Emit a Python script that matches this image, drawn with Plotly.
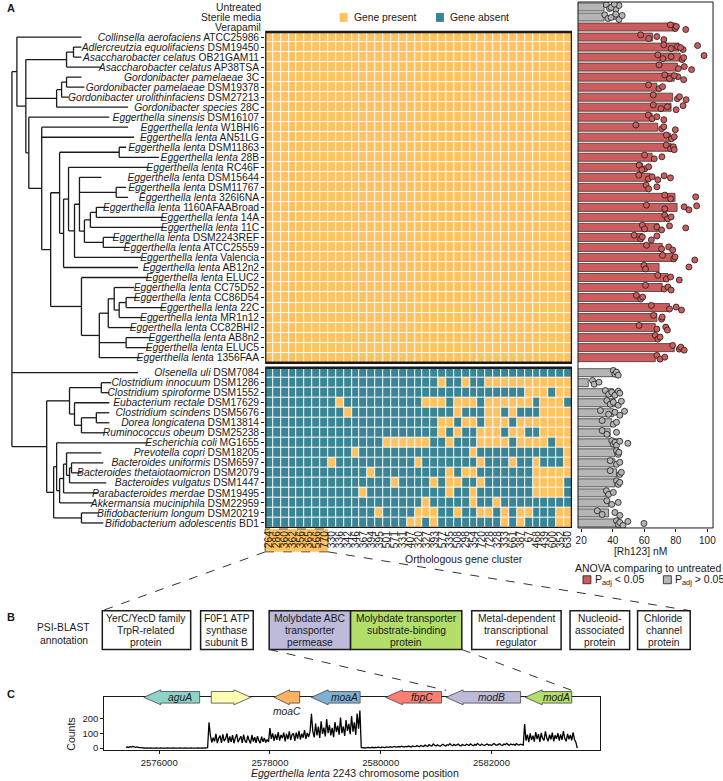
import plotly.graph_objects as go

W, H = 723, 781
FONT = "Liberation Sans, Arial, sans-serif"
INK = "#1a1a1a"
YELLOW = "#FEC260"
TEAL = "#3A8595"
RED = "#CD5C5C"
GREY = "#B5B5B5"

# ---------------------------------------------------------------- data
CONTROL_LABELS = ["Untreated", "Sterile media", "Verapamil"]
CONTROL_VALUES = [34.5, 34.5, 80.0]
CONTROL_POINTS = [[36, 38, 40, 42, 44, 39, 41], [35, 37, 41, 44, 46, 39, 42], [76.6, 79.7, 80.4, 86.3]]
CONTROL_SIG = [False, False, True]

TOP_SPECIES = [
    ("Collinsella aerofaciens", "ATCC25986"), ("Adlercreutzia equolifaciens", "DSM19450"),
    ("Asaccharobacter celatus", "OB21GAM11"), ("Asaccharobacter celatus", "AP38TSA"),
    ("Gordonibacter pamelaeae", "3C"), ("Gordonibacter pamelaeae", "DSM19378"),
    ("Gordonibacter urolithinfaciens", "DSM27213"), ("Gordonibacter species", "28C"),
    ("Eggerthella sinensis", "DSM16107"), ("Eggerthella lenta", "W1BHI6"),
    ("Eggerthella lenta", "AN51LG"), ("Eggerthella lenta", "DSM11863"),
    ("Eggerthella lenta", "28B"), ("Eggerthella lenta", "RC46F"),
    ("Eggerthella lenta", "DSM15644"), ("Eggerthella lenta", "DSM11767"),
    ("Eggerthella lenta", "326I6NA"), ("Eggerthella lenta", "1160AFAABroad"),
    ("Eggerthella lenta", "14A"), ("Eggerthella lenta", "11C"),
    ("Eggerthella lenta", "DSM2243REF"), ("Eggerthella lenta", "ATCC25559"),
    ("Eggerthella lenta", "Valencia"), ("Eggerthella lenta", "AB12n2"),
    ("Eggerthella lenta", "ELUC2"), ("Eggerthella lenta", "CC75D52"),
    ("Eggerthella lenta", "CC86D54"), ("Eggerthella lenta", "22C"),
    ("Eggerthella lenta", "MR1n12"), ("Eggerthella lenta", "CC82BHI2"),
    ("Eggerthella lenta", "AB8n2"), ("Eggerthella lenta", "ELUC5"),
    ("Eggerthella lenta", "1356FAA"),
]
TOP_VALUES = [65.3, 82, 82.8, 81, 79, 68, 78, 77, 65, 68.5, 76.7, 77, 65, 59, 63.8, 61.8, 79.5,
              80.8, 73, 69, 59.1, 71.4, 78.7, 69.4, 75, 71.4, 56.7, 76, 68, 67, 67.3, 79, 67]
TOP_POINTS = [
    [57.7, 62.8, 68.0, 72.4], [72.4, 77.0, 81.0, 84.6, 93.8, 83.0], [68.6, 71.8, 77.0, 84.0, 97.9, 85.0],
    [69.4, 81.6, 85.4, 90.0], [73.0, 76.0, 81.3, 85.0, 79.0], [62.7, 69.3, 71.6],
    [65.7, 81.0, 82.3, 86.5], [65.7, 70.6, 74.7, 80.2, 84.6], [62.6, 65.0, 68.0, 72.4],
    [54.7, 71.0, 72.4, 79.7], [74.0, 77.3, 79.0], [73.9, 76.7, 78.5, 79.0],
    [60.2, 66.3, 71.2], [56.7, 60.4, 62.8, 58.5], [56.5, 62.6, 65.0, 68.6, 72.6, 76.6],
    [61.2, 62.8, 68.0], [73.0, 76.7, 92.6], [61.4, 73.0, 85.3, 88.3, 93.2],
    [73.0, 74.8, 77.0], [58.8, 60.2, 68.0, 71.0, 76.0, 86.3], [53.6, 57.7, 58.8, 64.5, 68.0],
    [61.4, 71.0, 75.5, 78.0], [71.6, 78.7, 79.5, 92.0], [59.8, 60.8, 88.3],
    [68.6, 74.0, 76.7, 82.2], [60.8, 72.6, 75.0, 77.0], [55.0, 57.7, 59.0],
    [64.5, 76.0, 80.2, 83.6], [65.9, 71.0, 71.4], [56.7, 68.0, 73.6, 74.7],
    [67.0, 68.6, 70.0], [78.0, 82.2, 83.2, 85.3], [68.0, 70.0, 73.0],
]

BOTTOM_SPECIES = [
    ("Olsenella uli", "DSM7084"), ("Clostridium innocuum", "DSM1286"),
    ("Clostridium spiroforme", "DSM1552"), ("Eubacterium rectale", "DSM17629"),
    ("Clostridium scindens", "DSM5676"), ("Dorea longicatena", "DSM13814"),
    ("Ruminococcus obeum", "DSM25238"), ("Escherichia coli", "MG1655"),
    ("Prevotella copri", "DSM18205"), ("Bacteroides uniformis", "DSM6597"),
    ("Bacteroides thetaiotaomicron", "DSM2079"), ("Bacteroides vulgatus", "DSM1447"),
    ("Parabacteroides merdae", "DSM19495"), ("Akkermansia muciniphila", "DSM22959"),
    ("Bifidobacterium longum", "DSM20219"), ("Bifidobacterium adolescentis", "BD1"),
]
BOTTOM_VALUES = [40.4, 24.5, 40.4, 41.4, 40.4, 39.4, 38.4, 43.5, 41.4, 41.4, 42.4, 41.4, 35.3, 37.4, 37.4, 43.5]
BOTTOM_POINTS = [
    [40.4, 41.4, 42.4, 43.5], [27.2, 28.2, 31.3], [35.3, 37.4, 39.4, 41.4, 43.5, 44.5],
    [36.3, 38.4, 40.4, 43.5, 45.5], [32.2, 37.4, 41.4, 44.5, 47.5], [33.3, 40.4, 42.4],
    [33.3, 36.3, 42.4], [39.4, 40.4, 41.4, 42.4, 44.5, 49.6], [42.4, 43.5, 43.9],
    [38.4, 42.4, 44.5], [38.4, 44.5, 45.5], [42.4, 43.5, 44.5], [36.0, 37.4, 40.4],
    [36.3, 39.4, 43.5], [30.2, 33.3, 41.4, 44.5], [42.4, 43.5, 44.5, 46.5, 49.6, 59.8],
]

CLUSTERS = ["264", "286", "360", "362", "356", "365", "566", "770",
            "330", "336", "342", "346", "367", "394", "395", "501", "571", "331", "407",
            "320", "327", "393", "577", "335", "508", "298", "354", "720", "728", "328",
            "333", "661", "387", "67", "468", "439", "600", "352", "630"]
N_CORE = 8  # clusters present in every reducer and absent in every non-reducer
# clusters present (index into CLUSTERS) for each non-reducing strain; reducers have all
BOTTOM_PRESENT = [
    [],
    [22, 25, 28, 29, 30, 31, 32, 33, 34, 35, 36, 37, 38],
    [33, 34, 35, 37, 38],
    [9, 20, 21, 22, 24, 25, 26, 28, 29, 30, 31, 32, 33, 35, 36, 37],
    [10, 24, 28, 29, 31, 35, 36, 37, 38],
    [22, 23, 25, 26, 28, 29, 30, 32, 33, 34, 35, 36, 37, 38],
    [22, 24, 27, 28, 29, 31, 32, 35, 36, 37, 38],
    [15, 16, 17, 18, 19, 20, 23, 27, 28, 29, 30, 32, 33, 34, 35, 37, 38],
    [11, 26, 38],
    [8, 19, 27, 31, 34, 38],
    [13, 23, 25, 26, 34, 35, 36, 37, 38],
    [16, 21, 23, 24, 27, 34, 35, 36, 37],
    [12, 23, 26, 34, 35, 36, 37],
    [20, 26, 29],
    [14, 19, 20, 21, 24, 27, 28, 30, 32, 33, 37, 38],
    [18, 19, 21, 30, 32, 37, 38],
]

# tree: internal node = [depth, [children]], leaf = (strain, depth)
TREE = [0.00, [
    [0.05, [
        ("ATCC25986", 0.70),
        [0.14, [
            [0.55, [[0.62, [("DSM19450", 0.70), ("OB21GAM11", 0.70)]], ("AP38TSA", 0.90)]],
            [0.45, [[0.50, [[0.55, [("3C", 0.70), ("DSM19378", 0.73)]], ("DSM27213", 0.57)]], ("28C", 1.17)]],
            [0.17, [
                ("DSM16107", 0.98),
                [0.30, [
                    ("W1BHI6", 1.17),
                    ("AN51LG", 1.23),
                    [0.39, [
                        [0.48, [
                            [1.08, [("DSM11863", 1.15), ("28B", 1.48)]],
                            [0.52, [
                                [0.57, [
                                    ("RC46F", 1.37),
                                    [0.63, [
                                        [0.68, [
                                            ("DSM15644", 0.90),
                                            [1.05, [("DSM11767", 1.15), ("326I6NA", 1.17)]],
                                            [0.73, [
                                                [0.79, [[0.85, [("1160AFAABroad", 0.97), ("14A", 1.53)]], ("11C", 1.53)]],
                                                [0.92, [("DSM2243REF", 1.03), ("ATCC25559", 1.15)]],
                                            ]],
                                        ]],
                                        ("Valencia", 1.30),
                                    ]],
                                ]],
                                ("AB12n2", 1.27),
                            ]],
                        ]],
                        [0.70, [
                            ("ELUC2", 1.37),
                            [0.88, [
                                [0.97, [
                                    [1.03, [("CC75D52", 1.23),
                                            [1.08, [[1.15, [("CC86D54", 1.27), ("22C", 1.53)]], ("MR1n12", 1.30)]]]],
                                    ("CC82BHI2", 1.23),
                                ]],
                                [1.15, [("AB8n2", 1.40), ("ELUC5", 1.40)]],
                                ("1356FAA", 1.30),
                            ]],
                        ]],
                    ]],
                ]],
            ]],
        ]],
    ]],
    ("DSM7084", 1.27),
    [0.35, [
        [0.58, [
            [0.90, [("DSM1286", 1.00), ("DSM1552", 0.98)]],
            [0.63, [
                ("DSM17629", 0.98),
                [0.70, [[0.85, [("DSM5676", 0.98), ("DSM13814", 0.98)]], ("DSM25238", 0.93)]],
            ]],
        ]],
        [0.42, [
            [0.45, [
                ("MG1655", 1.37),
                [0.48, [
                    [0.52, [
                        [0.55, [
                            ("DSM18205", 0.90),
                            [0.58, [[0.60, [("DSM6597", 0.92), ("DSM2079", 0.70)]], ("DSM1447", 0.95)]],
                        ]],
                        ("DSM19495", 0.87),
                    ]],
                    ("DSM22959", 0.82),
                ]],
            ]],
            [0.70, [("DSM20219", 0.87), ("BD1", 0.92)]],
        ]],
    ]],
]]

PSI_TEXT = [
    ["YerC/YecD family", "TrpR-related", "protein"],
    ["F0F1 ATP", "synthase", "subunit B"],
    ["Molybdate ABC", "transporter", "permease"],
    ["Molybdate transporter", "substrate-binding", "protein"],
    ["Metal-dependent", "transcriptional", "regulator"],
    ["Nucleoid-", "associated", "protein"],
    ["Chloride", "channel", "protein"],
]

GENE_NAMES = ["aguA", "", "moaC", "moaA", "fbpC", "modB", "modA"]
GENE_START = [2575723, 2576941, 2578075, 2578747, 2580091, 2581183, 2582611]
GENE_END = [2576731, 2577655, 2578537, 2579629, 2581099, 2582527, 2583451]
GENE_STRAND = [-1, 1, -1, -1, -1, -1, -1]
GENE_COLORS = ["#8DD3C7", "#FFFFB3", "#FDB462", "#80B1D3", "#FB8072", "#BEBADA", "#B3DE69"]

COV_START = 2575400
COV_STEP = 25
COVERAGE = [
    6, 9, 5, 10, 7, 11, 8, 6, 9, 5, 4, 3, 2,
    1, 0, 1, 0, 0, 1, 0, 0, 0, 1, 0, 0, 1, 0, 0, 0, 0, 1, 0, 0, 0, 1, 0, 0, 0, 0, 1, 0, 0, 0,
    1, 0, 0, 0, 1, 0, 0, 0, 0, 1, 0, 0, 1, 0, 1, 2, 3,
    172,
    85, 38, 70, 45, 96, 34, 66, 84, 36, 92, 47, 63, 99, 36, 78, 42, 87, 33, 68, 94,
    40, 61, 80, 35, 90, 48, 37, 83, 52, 32, 88, 45, 73, 35, 80, 50, 34, 77, 43, 68, 38, 58, 42,
    135,
    62, 99, 48, 92, 56, 108, 51, 88, 67, 104, 45, 96, 60, 112, 54, 90, 99, 49, 104, 64,
    115, 58, 97, 70, 120, 62, 102, 75, 110,
    230,
    110, 72, 165, 85, 145, 68, 180, 95, 138, 78, 195, 100, 155, 86, 135, 74, 175, 108, 150, 90,
    205, 100, 145, 82, 188, 115, 162, 93, 215, 110, 172, 88, 232, 130, 252,
    5,
    2, 4, 1, 3, 5, 2, 4, 6, 3, 5, 4, 7, 5, 3, 8, 6, 4, 9, 7, 5,
    10, 6, 8, 12, 7, 9, 11, 8, 13, 10, 7, 12, 9, 14, 11, 8, 15, 12, 10, 16,
    13, 9, 18, 14, 11, 20, 15, 12, 24, 17, 14, 28, 19, 15, 22, 17, 13, 20, 26, 18,
    15, 23, 19, 30, 21, 16, 25, 18, 22, 27, 19, 15, 24, 20, 17, 26, 22, 18, 29, 21,
    16, 25, 20, 32, 23, 18, 27, 21, 17, 24, 28, 20, 23, 18, 26, 31, 22, 19, 25, 29,
    21, 18, 27, 23, 32, 24, 20, 28, 22, 26, 19, 30, 24, 21, 27, 23, 20,
    162,
    50, 90, 40, 98, 55, 84, 44, 108, 60, 94, 42, 102, 65, 52, 112, 68, 47, 90, 58, 104,
    45, 86, 62, 100, 50, 92, 55, 114, 66, 46, 96, 60, 88, 52, 105, 58, 40,
    0,
]

# ---------------------------------------------------------------- helpers
def fx(px):
    return px / W


def fy(py):
    return 1 - py / H


pos_ctrl = list(range(len(CONTROL_LABELS)))
pos_top = [len(CONTROL_LABELS) + i for i in range(len(TOP_SPECIES))]
pos_bot = [pos_top[-1] + 1.5 + i for i in range(len(BOTTOM_SPECIES))]
ROWPOS = {}
for (sp, st), p in zip(TOP_SPECIES + BOTTOM_SPECIES, pos_top + pos_bot):
    ROWPOS[st] = p

tree_x, tree_y = [], []


def walk(node):
    if isinstance(node, tuple):
        key, d = node
        return ROWPOS[key], d
    d, kids = node
    res = [walk(k) for k in kids]
    ys = [r[0] for r in res]
    for yc, dc in res:
        tree_x.extend([d, dc, None])
        tree_y.extend([yc, yc, None])
    tree_x.extend([d, d, None])
    tree_y.extend([min(ys), max(ys), None])
    return (min(ys) + max(ys)) / 2, d


walk(TREE)

ncol = len(CLUSTERS)
z_top = [[1] * ncol for _ in TOP_SPECIES]
z_bot = [[1 if c in row else 0 for c in range(ncol)] for row in BOTTOM_PRESENT]

fig = go.Figure()
fig.add_trace(go.Scatter(x=tree_x, y=tree_y, mode="lines", line=dict(color=INK, width=1.3),
                         xaxis="x2", yaxis="y", hoverinfo="skip"))
cs = [[0, TEAL], [0.5, TEAL], [0.5, YELLOW], [1, YELLOW]]
for z, pos in ((z_top, pos_top), (z_bot, pos_bot)):
    fig.add_trace(go.Heatmap(z=z, x=list(range(ncol)), y=pos, colorscale=cs, zmin=0, zmax=1,
                             xgap=1, ygap=1, showscale=False, xaxis="x", yaxis="y", hoverinfo="skip"))

bar_pos = pos_ctrl + pos_top + pos_bot
bar_val = CONTROL_VALUES + TOP_VALUES + BOTTOM_VALUES
bar_pts = CONTROL_POINTS + TOP_POINTS + BOTTOM_POINTS
bar_sig = CONTROL_SIG + [True] * len(TOP_VALUES) + [False] * len(BOTTOM_VALUES)
bar_col = [RED if s else GREY for s in bar_sig]
fig.add_trace(go.Bar(x=bar_val, y=bar_pos, orientation="h", width=0.8,
                     marker=dict(color=bar_col, line=dict(color="#3a3a3a", width=0.8)),
                     xaxis="x3", yaxis="y", hoverinfo="skip"))
JIT = [-0.22, 0.15, -0.05, 0.25, -0.15, 0.05, -0.28]
px_, py_, pc_ = [], [], []
for p, pts, c in zip(bar_pos, bar_pts, bar_col):
    for k, v in enumerate(pts):
        px_.append(v)
        py_.append(p + JIT[k % len(JIT)])
        pc_.append(c)
fig.add_trace(go.Scatter(x=px_, y=py_, mode="markers",
                         marker=dict(size=6, color=pc_, line=dict(color=INK, width=0.8)),
                         xaxis="x3", yaxis="y", hoverinfo="skip"))

cov_x = [COV_START + i * COV_STEP for i in range(len(COVERAGE))]
fig.add_trace(go.Scatter(x=cov_x, y=COVERAGE, mode="lines",
                         line=dict(color="black", width=1.3, simplify=False),
                         xaxis="x4", yaxis="y4", hoverinfo="skip"))

# ---------------------------------------------------------------- layout
XR = [2575009, 2583958]
C_L, C_R, C_T, C_B = 103, 602, 700, 753
ppb = (C_R - C_L) / (XR[1] - XR[0])


def gpx(bp):
    return C_L + (bp - XR[0]) * ppb


shapes, ann = [], []


def text(px, py, s, size=10.5, xanchor="center", yanchor="middle", **kw):
    ann.append(dict(x=fx(px), y=fy(py), xref="paper", yref="paper", text=s, showarrow=False,
                    xanchor=xanchor, yanchor=yanchor,
                    font=dict(family=FONT, size=size, color=INK), **kw))


# heatmap boxes
for y0, y1 in ((pos_top[0] - 0.5, pos_top[-1] + 0.5), (pos_bot[0] - 0.5, pos_bot[-1] + 0.5)):
    shapes.append(dict(type="rect", xref="x", yref="y", x0=-0.5, x1=ncol - 0.5, y0=y0, y1=y1,
                       line=dict(color=INK, width=2.5), layer="above"))
# highlighted core clusters label box
col_w = (574 - 265) / ncol
core_r = 265 + N_CORE * col_w
shapes.append(dict(type="rect", xref="paper", yref="paper", x0=fx(265), x1=fx(core_r),
                   y0=fy(554), y1=fy(531), fillcolor=YELLOW,
                   line=dict(color="#555", width=1, dash="dash"), layer="below"))
shapes.append(dict(type="line", xref="paper", yref="paper", x0=fx(265), y0=fy(554), x1=fx(101), y1=fy(613),
                   line=dict(color="#333", width=1, dash="dash")))
shapes.append(dict(type="line", xref="paper", yref="paper", x0=fx(core_r), y0=fy(554), x1=fx(693), y1=fy(613),
                   line=dict(color="#333", width=1, dash="dash")))
# bar panel border
shapes.append(dict(type="rect", xref="x3 domain", yref="y domain", x0=0, x1=1, y0=0, y1=1,
                   line=dict(color=INK, width=1)))

# control labels
for lab, p in zip(CONTROL_LABELS, pos_ctrl):
    ann.append(dict(x=fx(263), y=p, xref="paper", yref="y", text=lab, showarrow=False,
                    xanchor="right", yanchor="middle", font=dict(family=FONT, size=10.3, color=INK)))

# top legend
shapes.append(dict(type="rect", xref="paper", yref="paper", x0=fx(340), x1=fx(348), y0=fy(22), y1=fy(13),
                   fillcolor=YELLOW, line=dict(width=0)))
shapes.append(dict(type="rect", xref="paper", yref="paper", x0=fx(437), x1=fx(445), y0=fy(22), y1=fy(13),
                   fillcolor=TEAL, line=dict(width=0)))
text(352, 17.5, "Gene present", 10.3, xanchor="left")
text(449, 17.5, "Gene absent", 10.3, xanchor="left")
text(465, 561, "Orthologous gene cluster", 10.5)
text(643, 554, "[Rh123] nM", 10.3)

# ANOVA legend
text(650, 570, "ANOVA comparing to untreated", 10.5)
shapes.append(dict(type="rect", xref="paper", yref="paper", x0=fx(585), x1=fx(593), y0=fy(586), y1=fy(578),
                   fillcolor=RED, line=dict(color=INK, width=0.8)))
shapes.append(dict(type="rect", xref="paper", yref="paper", x0=fx(666), x1=fx(674), y0=fy(586), y1=fy(578),
                   fillcolor=GREY, line=dict(color=INK, width=0.8)))
text(595, 582, "P<sub>adj</sub> < 0.05", 10.5, xanchor="left")
text(676, 582, "P<sub>adj</sub> > 0.05", 10.5, xanchor="left")

# panel letters
text(3, 8, "<b>A</b>", 11, xanchor="left")
text(3, 619, "<b>B</b>", 11, xanchor="left")
text(3, 697, "<b>C</b>", 11, xanchor="left")

# panel B
BOX_X = [(101, 190), (200, 253), (269, 351), (351, 463), (473, 563), (572, 632), (640, 693)]
BOX_FILL = ["white", "white", "#BEBADA", "#B3DE69", "white", "white", "white"]
B_T, B_B = 613, 652
for (x0, x1), fill, lines in zip(BOX_X, BOX_FILL, PSI_TEXT):
    shapes.append(dict(type="rect", xref="paper", yref="paper", x0=fx(x0), x1=fx(x1), y0=fy(B_B), y1=fy(B_T),
                       fillcolor=fill, line=dict(color=INK, width=1.5)))
    for k, ln in enumerate(lines):
        text((x0 + x1) / 2, 620.5 + 12 * k, ln, 10.3)
text(62, 630, "PSI-BLAST", 10.3)
text(62, 643, "annotation", 10.3)

# panel B -> C dashed lines
mb = GENE_NAMES.index("modB")
ma = GENE_NAMES.index("modA")
shapes.append(dict(type="line", xref="paper", yref="paper", x0=fx(BOX_X[2][0]), y0=fy(B_B),
                   x1=fx(gpx(GENE_START[mb])), y1=fy(693), line=dict(color="#333", width=1, dash="dash")))
shapes.append(dict(type="line", xref="paper", yref="paper", x0=fx(BOX_X[3][1]), y0=fy(B_B),
                   x1=fx(gpx(GENE_END[ma])), y1=fy(693), line=dict(color="#333", width=1, dash="dash")))

# gene arrows
head_bp = 17 / ppb
yc = fy(C_T)
hh, bh = 7.5 / H, 5.8 / H
for name, s, e, strand, col in zip(GENE_NAMES, GENE_START, GENE_END, GENE_STRAND, GENE_COLORS):
    hl = min(head_bp, 0.6 * (e - s))
    if strand < 0:
        tip, base, tail = s, s + hl, e
    else:
        tip, base, tail = e, e - hl, s
    path = (f"M {tip},{yc} L {base},{yc + hh} L {base},{yc + bh} L {tail},{yc + bh} "
            f"L {tail},{yc - bh} L {base},{yc - bh} L {base},{yc - hh} Z")
    shapes.append(dict(type="path", path=path, xref="x4", yref="paper", fillcolor=col,
                       line=dict(color="#444", width=0.8), layer="above"))
    if name:
        if name == "moaC":
            gx, gy = (s + e) / 2, fy(714)
        else:
            gx, gy = (base + tail) / 2, yc
        ann.append(dict(x=gx, y=gy, xref="x4", yref="paper", text=f"<i>{name}</i>",
                        showarrow=False, xanchor="center", yanchor="middle",
                        font=dict(family=FONT, size=10.3, color=INK)))

text(70, 737, "Counts", 10.5, textangle=-90)
text(355, 776, "<i>Eggerthella lenta</i> 2243 chromosome position", 10.5)

ticktext_y = [f"<i>{sp}</i> {st}" for sp, st in TOP_SPECIES + BOTTOM_SPECIES]
COV_TICKS = [2576000, 2578000, 2580000, 2582000]

fig.update_layout(
    width=W, height=H, margin=dict(l=0, r=0, t=0, b=0), autosize=False,
    paper_bgcolor="white", plot_bgcolor="white", showlegend=False,
    font=dict(family=FONT, size=10.5, color=INK),
    xaxis=dict(domain=[fx(265), fx(574)], range=[-0.5, ncol - 0.5], anchor="y",
               tickmode="array", tickvals=list(range(ncol)), ticktext=CLUSTERS, tickangle=-90,
               tickfont=dict(size=10.3, color=INK), ticks="", showgrid=False, zeroline=False, showline=False),
    yaxis=dict(domain=[fy(530), fy(2)], range=[pos_bot[-1] + 0.5, -0.5], anchor="x",
               tickmode="array", tickvals=pos_top + pos_bot, ticktext=ticktext_y,
               ticks="outside", ticklen=3, tickcolor=INK, tickwidth=1,
               tickfont=dict(size=10.3, color=INK), showgrid=False, zeroline=False, showline=False),
    xaxis2=dict(domain=[0, fx(262)], range=[-0.1, 2.52], anchor="y", visible=False),
    xaxis3=dict(domain=[fx(580), fx(716)], range=[18, 103.6], anchor="y",
                tickmode="array", tickvals=[20, 40, 60, 80, 100], ticks="outside", ticklen=3,
                tickcolor=INK, tickfont=dict(size=10, color=INK),
                showgrid=False, zeroline=False, showline=False),
    xaxis4=dict(domain=[fx(C_L), fx(C_R)], range=XR, anchor="y4",
                tickmode="array", tickvals=COV_TICKS, ticktext=[str(t) for t in COV_TICKS],
                ticks="outside", ticklen=3, tickcolor=INK, tickfont=dict(size=9.5, color=INK),
                showline=True, mirror=True, linecolor=INK, linewidth=1.3, showgrid=False, zeroline=False),
    yaxis4=dict(domain=[fy(C_B), fy(C_T)], range=[-13, 340], anchor="x4",
                tickmode="array", tickvals=[0, 100, 200], ticks="outside", ticklen=3, tickcolor=INK,
                tickfont=dict(size=9.5, color=INK),
                showline=True, mirror=True, linecolor=INK, linewidth=1.3, showgrid=False, zeroline=False),
    shapes=shapes, annotations=ann,
)

fig.write_html("out.html", config={"displayModeBar": False},
               post_script="document.body.style.margin='0px';")
